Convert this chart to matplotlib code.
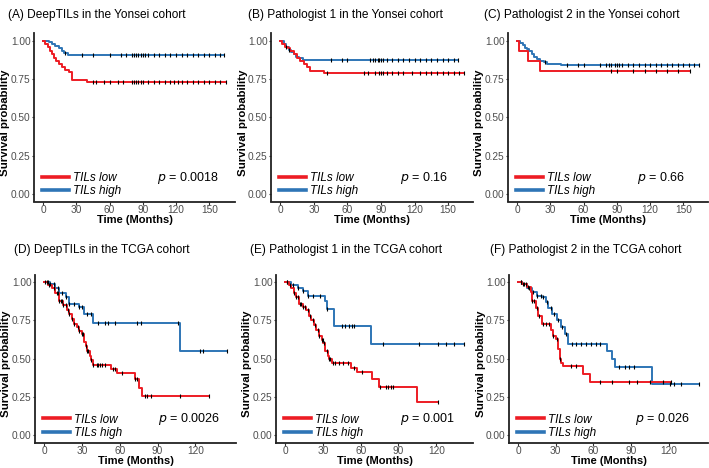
import numpy as np
import matplotlib
matplotlib.use('Agg')
import matplotlib.pyplot as plt
from matplotlib.lines import Line2D

plt.rcParams['font.family'] = ['Liberation Sans', 'DejaVu Sans']

RED = '#ED1C24'
BLUE = '#2E75B6'

titles = ['(A) DeepTILs in the Yonsei cohort',
          '(B) Pathologist 1 in the Yonsei cohort',
          '(C) Pathologist 2 in the Yonsei cohort',
          '(D) DeepTILs in the TCGA cohort',
          '(E) Pathologist 1 in the TCGA cohort',
          '(F) Pathologist 2 in the TCGA cohort']
p_values = ['0.0018', '0.16', '0.66', '0.0026', '0.001', '0.026']

# step times / survival (start of each step), last follow-up time
A_low_t = [0, 2, 4, 6, 8, 10, 12, 14, 17, 20, 23, 26, 40]
A_low_s = [1.0, 0.98, 0.96, 0.935, 0.91, 0.89, 0.87, 0.845, 0.825, 0.81, 0.795, 0.745, 0.73]
A_low_end = 165
A_high_t = [0, 5, 8, 11, 14, 17, 19, 22]
A_high_s = [1.0, 0.99, 0.98, 0.965, 0.95, 0.935, 0.92, 0.905]
A_high_end = 163

B_low_t = [0, 2, 4, 7, 9, 12, 15, 18, 21, 24, 27, 39]
B_low_s = [1.0, 0.98, 0.96, 0.95, 0.93, 0.91, 0.89, 0.87, 0.85, 0.83, 0.805, 0.79]
B_low_end = 164
B_high_t = [0, 3, 5, 8, 10, 12, 14, 17, 20]
B_high_s = [1.0, 0.98, 0.96, 0.94, 0.925, 0.91, 0.895, 0.885, 0.875]
B_high_end = 159

C_low_t = [0, 2, 10, 21]
C_low_s = [1.0, 0.933, 0.867, 0.80]
C_low_end = 156
C_high_t = [0, 3, 5, 7, 9, 11, 13, 15, 18, 21, 24, 27, 40]
C_high_s = [1.0, 0.985, 0.97, 0.955, 0.945, 0.93, 0.91, 0.895, 0.88, 0.87, 0.86, 0.85, 0.84]
C_high_end = 164

D_low_t = [0, 3, 6, 9, 12, 15, 18, 20, 22, 24, 26, 28, 30, 32, 33, 34, 36, 37, 39, 53, 58, 72, 75, 78]
D_low_s = [1.0, 0.98, 0.96, 0.93, 0.88, 0.85, 0.82, 0.79, 0.76, 0.73, 0.71, 0.68, 0.66,
           0.61, 0.58, 0.55, 0.52, 0.49, 0.46, 0.435, 0.405, 0.365, 0.31, 0.26]
D_low_end = 131
D_high_t = [0, 5, 9, 12, 17, 20, 28, 32, 39, 108]
D_high_s = [1.0, 0.99, 0.96, 0.93, 0.90, 0.86, 0.835, 0.79, 0.735, 0.55]
D_high_end = 145

E_low_t = [0, 3, 5, 7, 9, 11, 14, 17, 19, 21, 23, 25, 27, 29, 30.5, 32, 34, 35, 37.5, 52.5, 57, 69, 74.5, 105]
E_low_s = [1.0, 0.98, 0.96, 0.93, 0.90, 0.86, 0.84, 0.82, 0.78, 0.75, 0.72, 0.69, 0.65, 0.62,
           0.60, 0.55, 0.52, 0.50, 0.47, 0.44, 0.415, 0.37, 0.315, 0.215]
E_low_end = 121
E_high_t = [0, 5, 10, 14, 18, 32, 33, 38.5, 68.5]
E_high_s = [1.0, 0.98, 0.965, 0.945, 0.91, 0.88, 0.825, 0.715, 0.595]
E_high_end = 142

F_low_t = [0, 3, 7, 10, 11, 14, 16, 19, 26, 28, 30, 32, 33, 34.5, 36, 52, 57]
F_low_s = [1.0, 0.99, 0.97, 0.935, 0.88, 0.83, 0.78, 0.73, 0.685, 0.65, 0.63, 0.565, 0.50, 0.47, 0.45, 0.40, 0.345]
F_low_end = 122
F_high_t = [0, 3, 7, 11, 15, 19, 22, 24, 27, 31, 34, 37, 40, 71, 75, 77, 107]
F_high_s = [1.0, 0.99, 0.96, 0.935, 0.91, 0.90, 0.87, 0.83, 0.79, 0.75, 0.705, 0.66, 0.595, 0.55, 0.50, 0.445, 0.335]
F_high_end = 144

# censoring times
A_low_c = [45, 48, 55, 60, 68, 72, 80, 82, 84, 86, 88, 90, 95, 100, 105, 110, 115, 118, 122, 125, 130, 135, 140, 145, 150, 155, 160, 165]
A_high_c = [20, 35, 45, 60, 70, 75, 80, 82, 84, 86, 88, 90, 92, 95, 100, 105, 110, 115, 120, 125, 130, 135, 140, 145, 150, 155, 160, 163]
B_low_c = [42, 75, 78, 85, 88, 90, 92, 95, 100, 105, 110, 118, 125, 130, 135, 140, 145, 150, 155, 160, 164]
B_high_c = [5, 8, 45, 55, 60, 80, 83, 85, 87, 88, 90, 92, 95, 100, 105, 110, 115, 120, 125, 130, 135, 140, 145, 150, 155, 159]
C_low_c = [85, 90, 105, 115, 125, 135, 145, 156]
C_high_c = [25, 45, 55, 60, 75, 80, 83, 85, 88, 90, 92, 95, 100, 105, 110, 115, 120, 125, 130, 135, 140, 145, 150, 155, 160, 164]
D_low_c = [2, 4, 8, 10, 11, 12, 13, 14, 15, 17, 19, 20, 22, 24, 27, 28, 30, 31, 33, 34, 35, 37,
           39, 42, 43, 44, 46, 48, 55, 56, 62, 72, 74, 80, 82, 85, 108, 131]
D_high_c = [1, 3, 5, 8, 11, 14, 17, 20, 24, 28, 30, 34, 37, 43, 48, 51, 56, 74, 77, 106, 124, 126, 145]
E_low_c = [2, 4, 7, 9, 10, 12, 13, 14, 16, 18, 20, 22, 24, 26, 27, 29, 30, 31, 33, 35, 36, 38,
           40, 43, 46, 50, 55, 61, 75, 80, 82, 84, 86, 121]
E_high_c = [2, 6, 10, 14, 18, 22, 28, 33, 45, 48, 51, 53, 55, 78, 106, 121, 128, 134, 142]
F_low_c = [2, 5, 8, 11, 13, 15, 17, 20, 22, 25, 28, 31, 33, 42, 46, 65, 75, 88, 95, 105, 115, 122]
F_high_c = [2, 4, 6, 9, 12, 15, 18, 20, 23, 26, 29, 32, 35, 38, 43, 46, 50, 54, 58, 62, 65,
            80, 85, 88, 92, 121, 124, 130, 144]

panels = [
    (A_low_t, A_low_s, A_low_end, A_low_c, A_high_t, A_high_s, A_high_end, A_high_c),
    (B_low_t, B_low_s, B_low_end, B_low_c, B_high_t, B_high_s, B_high_end, B_high_c),
    (C_low_t, C_low_s, C_low_end, C_low_c, C_high_t, C_high_s, C_high_end, C_high_c),
    (D_low_t, D_low_s, D_low_end, D_low_c, D_high_t, D_high_s, D_high_end, D_high_c),
    (E_low_t, E_low_s, E_low_end, E_low_c, E_high_t, E_high_s, E_high_end, E_high_c),
    (F_low_t, F_low_s, F_low_end, F_low_c, F_high_t, F_high_s, F_high_end, F_high_c),
]
xticks_top = [0, 30, 60, 90, 120, 150]
xticks_bottom = [0, 30, 60, 90, 120]
yticks = [0, 0.25, 0.5, 0.75, 1.0]

W, H = 709, 468
# axes boxes in pixels: left, top, width, height
boxes = [(34, 33, 201, 168.5), (271, 33, 202, 168.5), (508, 33, 200, 168.5),
         (35, 274.5, 201, 168.5), (276, 274.5, 197, 168.5), (509, 274.5, 199, 168.5)]
title_pos = [(8, 15), (248, 15), (484, 15), (14, 250), (250, 250), (490, 250)]
p_x = [0.92, 0.875, 0.885, 0.92, 0.91, 0.91]


def surv_at(t, s, x):
    idx = np.searchsorted(t, x, side='right') - 1
    return np.asarray(s)[idx]


def draw_curve(ax, t, s, end, cens, color):
    tt = list(t) + [end]
    ss = list(s) + [s[-1]]
    ax.step(tt, ss, where='post', color=color, lw=1.4, zorder=3)
    ax.plot(cens, surv_at(t, s, cens), ls='none', marker='|', ms=2.6,
            mew=0.8, color='black', zorder=4)


fig = plt.figure(figsize=(W / 100, H / 100), dpi=100)

for i, p in enumerate(panels):
    lt, ls_, lend, lc, ht, hs, hend, hc = p
    l, t, w, h = boxes[i]
    ax = fig.add_axes([l / W, 1 - (t + h) / H, w / W, h / H])
    draw_curve(ax, ht, hs, hend, hc, BLUE)
    draw_curve(ax, lt, ls_, lend, lc, RED)

    xmax = max(lend, hend)
    ax.set_xlim(-0.05 * xmax, 1.05 * xmax)
    ax.set_ylim(-0.05, 1.05)
    ax.set_xticks(xticks_top if i < 3 else xticks_bottom)
    ax.set_yticks(yticks)
    ax.set_yticklabels(['%.2f' % v for v in yticks])
    for side in ['top', 'right']:
        ax.spines[side].set_visible(False)
    for side in ['left', 'bottom']:
        ax.spines[side].set_linewidth(1.3)
        ax.spines[side].set_color('#222222')
    ax.tick_params(length=1.8, width=0.8, color='#333333', labelcolor='#4d4d4d',
                   labelsize=7.3, pad=0.7)
    ax.set_xlabel('Time (Months)', fontsize=8, fontweight='bold', labelpad=0)
    ax.set_ylabel('Survival probability', fontsize=8.2, fontweight='bold')
    # label's right edge about 23 px left of the spine
    ax.yaxis.set_label_coords(-23.5 / w, 0.47)

    handles = [Line2D([], [], color=RED, lw=2.6), Line2D([], [], color=BLUE, lw=2.6)]
    ax.legend(handles, ['TILs low', 'TILs high'], loc='lower left',
              bbox_to_anchor=(0.04, 0.025), frameon=False, borderpad=0,
              borderaxespad=0, handlelength=2.3, handletextpad=0.3,
              labelspacing=0.1, prop={'size': 8.5, 'style': 'italic'})

    ax.text(p_x[i], 0.14, r'$\it{p}$ = ' + p_values[i], transform=ax.transAxes,
            ha='right', va='center', fontsize=9)

    tx, ty = title_pos[i]
    fig.text(tx / W, 1 - ty / H, titles[i], fontsize=8.6, ha='left', va='center')

fig.savefig('out.png', dpi=100)
